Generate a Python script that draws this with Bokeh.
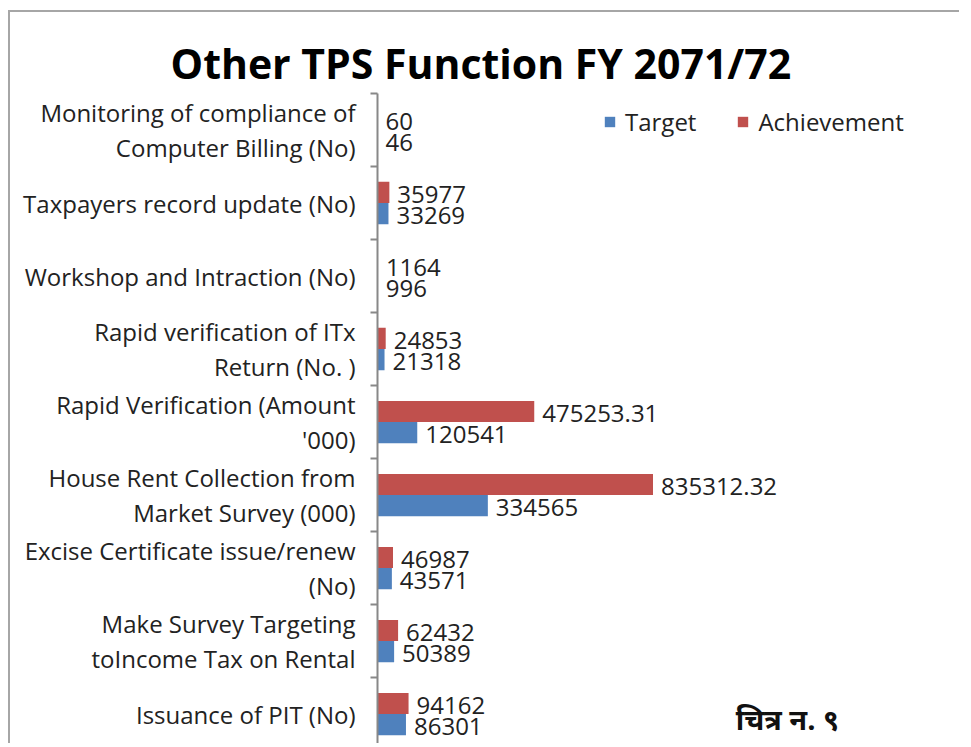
from bokeh.plotting import figure
from bokeh.models import ColumnDataSource, FixedTicker, Range1d, Label
from bokeh.core.properties import value
from bokeh.embed import file_html
from bokeh.resources import INLINE

# ---- data (top to bottom as in the chart) ----
categories = [
    "Monitoring of compliance of\nComputer Billing (No)",
    "Taxpayers record update (No)",
    "Workshop and Intraction (No)",
    "Rapid verification of ITx\nReturn (No. )",
    "Rapid Verification (Amount\n'000)",
    "House Rent Collection from\nMarket Survey (000)",
    "Excise Certificate issue/renew\n(No)",
    "Make Survey Targeting\ntoIncome Tax on Rental",
    "Issuance of PIT (No)",
]
target = [46, 33269, 996, 21318, 120541, 334565, 43571, 50389, 86301]
achievement = [60, 35977, 1164, 24853, 475253.31, 835312.32, 46987, 62432, 94162]
series_names = ["Target", "Achievement"]
title_text = "Other TPS Function FY 2071/72"
caption_text = "चित्र न. ९"

BLUE = "#4F81BD"
RED = "#C0504D"
FONT = "Open Sans"
TXT = "#222222"


def fmt(v):
    return str(int(v)) if float(v).is_integer() else f"{v:.2f}"


n = len(categories)
ys = [n - 1 - i for i in range(n)]
half = 0.145
source = ColumnDataSource(dict(
    y_t=[y - half for y in ys],
    y_a=[y + half for y in ys],
    tgt=target,
    ach=achievement,
    tgt_lbl=[fmt(v) for v in target],
    ach_lbl=[fmt(v) for v in achievement],
))

p = figure(
    width=951, height=733,
    x_range=Range1d(0, 1770700),
    y_range=Range1d(-0.43, n - 0.5),
    x_axis_location=None,
    output_backend="svg", toolbar_location=None,
    min_border_left=367, min_border_top=81,
    min_border_bottom=0, min_border_right=0,
)
p.styles = {"margin-left": "8px", "margin-top": "10px",
            "border-top": "2px solid #a6a6a6", "border-left": "2px solid #a6a6a6"}
p.outline_line_color = None
p.xgrid.visible = False
p.ygrid.visible = False
p.background_fill_color = "white"
p.border_fill_color = "white"

p.title.text = title_text
p.title.align = "left"
p.title.offset = -207
p.title.text_font = FONT
p.title.text_font_size = "41px"
p.title.text_font_style = "bold"
p.title.text_color = "#000000"
p.title.standoff = 6

p.hbar(y="y_t", left=0, right="tgt", height=2 * half, source=source,
       fill_color=BLUE, line_color=None, legend_label=series_names[0])
p.hbar(y="y_a", left=0, right="ach", height=2 * half, source=source,
       fill_color=RED, line_color=None, legend_label=series_names[1])

p.text(x="tgt", y="y_t", text="tgt_lbl", source=source, x_offset=8, y_offset=2,
       text_baseline="middle", text_font=value(FONT), text_font_size="24px",
       text_color=TXT)
p.text(x="ach", y="y_a", text="ach_lbl", source=source, x_offset=8, y_offset=2,
       text_baseline="middle", text_font=value(FONT), text_font_size="24px",
       text_color=TXT)

ax = p.yaxis[0]
ax.ticker = FixedTicker(ticks=ys, minor_ticks=[y - 0.5 for y in ys] + [n - 0.5])
ax.major_label_overrides = {y: categories[i] for i, y in enumerate(ys)}
ax.major_tick_line_color = None
ax.major_tick_out = 0
ax.major_tick_in = 0
ax.minor_tick_out = 7
ax.minor_tick_in = 0
ax.minor_tick_line_color = "#888888"
ax.minor_tick_line_width = 2
ax.axis_line_color = "#888888"
ax.axis_line_width = 2
ax.major_label_standoff = 15
ax.major_label_text_font = FONT
ax.major_label_text_font_size = "24px"
ax.major_label_text_color = TXT
ax.major_label_text_line_height = 1.08

lg = p.legend[0]
lg.orientation = "horizontal"
lg.location = (226, 607)
lg.border_line_color = None
lg.background_fill_alpha = 0
lg.glyph_width = 13
lg.glyph_height = 13
lg.label_standoff = 9
lg.spacing = 40
lg.padding = 0
lg.margin = 0
lg.label_text_font = FONT
lg.label_text_font_size = "24px"
lg.label_text_color = TXT

p.add_layout(Label(x=410, y=23, x_units="screen", y_units="screen", text=caption_text,
                   text_align="center", text_baseline="middle",
                   text_font="Noto Sans Devanagari, Lohit Devanagari, Noto Sans, sans-serif",
                   text_font_size="29px", text_font_style="bold",
                   text_color="#111111"))

open("out.html", "w").write(file_html(p, INLINE))
